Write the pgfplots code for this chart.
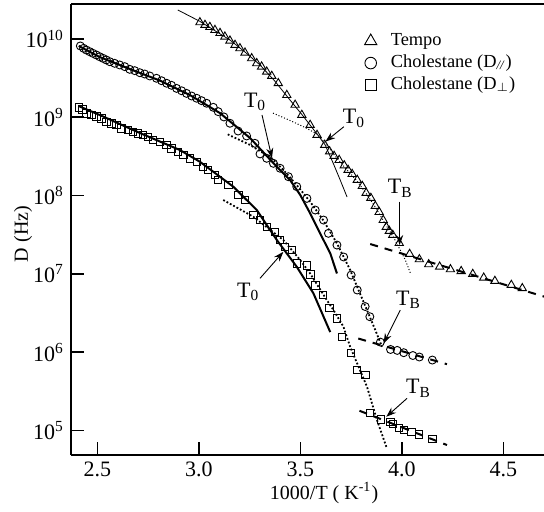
\documentclass[border=0pt]{standalone}
\usepackage{fontspec}
\setmainfont{Liberation Serif}
\usepackage{pgfplots}
\usepackage{pgfplotstable}
\pgfplotsset{compat=1.18}
\usetikzlibrary{arrows.meta}
\pgfplotsset{markleg/.style={legend image code/.code={\draw[##1,mark size=#1] plot coordinates {(0pt,0pt)};}}}

% Tempo data
\pgfplotstableread{
x y
3.005 1.63e10
3.030 1.51e10
3.054 1.42e10
3.079 1.30e10
3.104 1.19e10
3.128 1.07e10
3.153 9.51e9
3.178 8.38e9
3.202 7.60e9
3.227 6.68e9
3.260 5.66e9
3.285 4.89e9
3.309 4.43e9
3.334 3.82e9
3.359 3.37e9
3.391 2.72e9
3.433 1.92e9
3.474 1.44e9
3.507 1.07e9
3.548 7.96e8
3.582 5.93e8
3.620 4.43e8
3.644 3.65e8
3.666 3.20e8
3.691 2.84e8
3.716 2.42e8
3.735 2.12e8
3.755 1.88e8
3.780 1.58e8
3.805 1.32e8
3.824 1.08e8
3.847 9.29e7
3.869 7.35e7
3.888 6.15e7
3.908 4.86e7
3.923 3.96e7
3.938 3.52e7
3.955 3.13e7
3.987 2.47e7
4.038 1.79e7
4.086 1.53e7
4.132 1.32e7
4.186 1.23e7
4.239 1.14e7
4.292 1.08e7
4.349 9.93e6
4.403 8.91e6
4.458 8.09e6
4.539 7.19e6
4.593 6.53e6
}\tempo

% Cholestane D parallel
\pgfplotstableread{
x y
2.416 8.15e9
2.432 7.60e9
2.446 7.23e9
2.462 6.89e9
2.478 6.56e9
2.495 6.25e9
2.511 5.94e9
2.528 5.66e9
2.544 5.40e9
2.561 5.13e9
2.585 4.89e9
2.610 4.66e9
2.635 4.43e9
2.659 4.10e9
2.684 3.94e9
2.709 3.71e9
2.733 3.57e9
2.758 3.37e9
2.791 3.15e9
2.816 2.93e9
2.841 2.72e9
2.865 2.56e9
2.890 2.34e9
2.915 2.18e9
2.939 2.02e9
2.964 1.87e9
2.989 1.75e9
3.013 1.63e9
3.038 1.51e9
3.071 1.34e9
3.095 1.18e9
3.123 1.01e9
3.153 8.38e8
3.193 6.67e8
3.235 5.77e8
3.276 4.65e8
3.301 3.40e8
3.334 2.99e8
3.367 2.58e8
3.400 2.23e8
3.441 1.74e8
3.482 1.30e8
3.532 9.20e7
3.573 6.53e7
3.614 4.86e7
3.638 3.29e7
3.680 2.33e7
3.713 1.64e7
3.750 9.64e6
3.780 6.21e6
3.819 3.82e6
3.842 2.83e6
3.894 1.34e6
3.944 1.08e6
3.977 1.05e6
4.009 9.82e5
4.054 9.04e5
4.086 8.65e5
4.150 7.91e5
}\cpar

% Cholestane D perpendicular
\pgfplotstableread{
x y
2.410 1.33e9
2.427 1.26e9
2.446 1.12e9
2.470 1.07e9
2.495 1.02e9
2.520 9.70e8
2.544 8.77e8
2.569 8.38e8
2.594 7.96e8
2.618 7.23e8
2.651 6.87e8
2.676 6.53e8
2.700 6.24e8
2.725 5.93e8
2.750 5.65e8
2.774 5.12e8
2.807 4.88e8
2.841 4.43e8
2.865 4.01e8
2.898 3.63e8
2.923 3.30e8
2.956 2.99e8
2.989 2.70e8
3.021 2.33e8
3.046 2.12e8
3.079 1.83e8
3.095 1.58e8
3.145 1.36e8
3.194 1.02e8
3.227 8.77e7
3.268 5.64e7
3.301 4.86e7
3.334 4.00e7
3.375 3.45e7
3.400 2.70e7
3.425 2.22e7
3.458 2.01e7
3.484 1.36e7
3.533 1.28e7
3.549 9.84e6
3.574 7.13e6
3.611 5.36e6
3.643 3.66e6
3.681 2.70e6
3.706 1.57e6
3.750 9.82e5
3.780 5.90e5
3.821 5.09e5
3.843 1.68e5
3.898 1.38e5
3.944 1.29e5
3.956 1.21e5
3.986 1.08e5
4.010 1.01e5
4.048 9.59e4
4.084 8.89e4
4.150 7.82e4
}\cperp

\begin{document}
\begin{tikzpicture}
\useasboundingbox (-35.5pt,-28pt) rectangle (236.5pt,227.5pt);
\begin{axis}[
  name=ax, at={(0,0)}, anchor=south west,
  scale only axis, width=236.5pt, height=225.5pt,
  xmin=2.37, xmax=4.70,
  ymode=log, ymin=4.84e4, ymax=2.8e10,
  axis lines=left, axis line style={-, line width=0.8pt},
  tick align=inside, major tick length=6.5pt,
  every tick/.style={black, line width=0.8pt},
  xtick={2.5,3.0,3.5,4.0,4.5}, xticklabels={2.5,3.0,3.5,4.0,4.5},
  ytick={1e5,1e6,1e7,1e8,1e9,1e10},
  yticklabels={10\textsuperscript{5},10\textsuperscript{6},10\textsuperscript{7},10\textsuperscript{8},10\textsuperscript{9},10\textsuperscript{10}},
  yminorticks=false, xminorticks=false,
  tick label style={font=\fontsize{11}{13}\selectfont},
  xlabel={1000/T ( K\textsuperscript{-1})}, ylabel={D (Hz)},
  label style={font=\fontsize{10.5}{12}\selectfont},
  every axis x label/.style={at={(axis description cs:0.535,-0.084)}, anchor=center},
  every axis y label/.style={at={(axis description cs:-0.1015,0.49)}, rotate=90, anchor=center},
  legend style={draw=none, fill=none, at={(axis description cs:0.620,0.942)}, anchor=north west,
    inner sep=0pt, row sep=0.5pt, column sep=6pt, font=\fontsize{9.2}{10}\selectfont,
    nodes={inner sep=1pt, text height=6.5pt, text depth=2pt}},
  legend cell align=left,
]
% ---- Tempo fit lines
\addplot[black, line width=0.4pt, forget plot] coordinates {
(2.896,2.35e10) (3.005,1.68e10) (3.153,9.71e9) (3.227,6.82e9) (3.301,4.66e9)
(3.374,2.90e9) (3.449,1.66e9) (3.513,1.04e9) (3.582,6.11e8) (3.622,4.43e8)
(3.661,2.61e8) (3.696,1.58e8) (3.730,9.57e7)};
\addplot[black, line width=0.5pt, densely dotted, forget plot] coordinates {
(3.365,1.13e9) (3.449,9.10e8) (3.523,7.40e8) (3.582,6.11e8) (3.627,4.55e8)
(3.671,3.20e8) (3.721,2.25e8) (3.770,1.63e8) (3.819,1.11e8) (3.869,7.13e7)
(3.918,4.33e7) (3.958,2.95e7) (3.992,2.01e7) (4.017,1.50e7) (4.042,1.02e7)};
\addplot[black, line width=1pt, dash pattern=on 4pt off 3.5pt, forget plot] coordinates {
(3.844,2.40e7) (4.703,5.09e6)};
% ---- Cholestane D// fit lines
\addplot[black, line width=1pt, forget plot] coordinates {
(2.408,8.15e9) (2.511,5.89e9) (2.659,4.14e9) (2.807,2.95e9) (2.956,1.92e9)
(3.104,1.13e9) (3.252,5.43e8) (3.384,2.33e8) (3.449,1.58e8) (3.499,1.02e8)
(3.548,5.93e7) (3.597,3.29e7) (3.647,1.83e7) (3.680,1.01e7)};
\addplot[black, line width=0.9pt, densely dotted, forget plot] coordinates {
(3.142,6.05e8) (3.252,4.43e8) (3.359,2.99e8) (3.425,2.00e8) (3.482,1.36e8)
(3.548,8.34e7) (3.612,4.86e7) (3.680,2.45e7) (3.745,1.12e7) (3.780,6.78e6)
(3.828,3.44e6) (3.869,1.91e6) (3.902,1.17e6)};
\addplot[black, line width=1pt, dash pattern=on 4pt off 3.5pt, forget plot] coordinates {
(3.785,1.49e6) (4.222,7.00e5)};
% ---- Cholestane Dperp fit lines
\addplot[black, line width=1pt, forget plot] coordinates {
(2.408,1.39e9) (2.511,1.07e9) (2.709,6.30e8) (2.906,3.82e8) (3.005,2.70e8)
(3.169,1.30e8) (3.285,6.53e7) (3.384,2.70e7) (3.482,1.23e7) (3.564,5.64e6)
(3.647,1.80e6)};
\addplot[black, line width=0.9pt, densely dotted, forget plot] coordinates {
(3.120,8.77e7) (3.268,5.36e7) (3.416,2.70e7) (3.499,1.50e7) (3.548,1.01e7)
(3.630,4.62e6) (3.663,3.44e6) (3.712,2.11e6) (3.745,1.17e6) (3.828,3.61e5)
(3.877,1.36e5) (3.926,5.89e4)};
\addplot[black, line width=1pt, dash pattern=on 4pt off 3.5pt, forget plot] coordinates {
(3.791,1.78e5) (4.222,6.49e4)};
% ---- data markers
\addplot[black, only marks, mark=triangle, mark size=2.4pt,
  mark options={solid, line width=0.45pt, fill=none}, markleg=3.5pt] table[x=x,y=y] {\tempo};
\addlegendentry{Tempo}
\addplot[black, only marks, mark=o, mark size=2pt,
  mark options={solid, line width=0.45pt, fill=none}, markleg=2.9pt] table[x=x,y=y] {\cpar};
\addlegendentry{Cholestane (D\textsubscript{\textit{//}})}
\addplot[black, only marks, mark=square, mark size=1.85pt,
  mark options={solid, line width=0.45pt, fill=none}, markleg=2.7pt] table[x=x,y=y] {\cperp};
\addlegendentry{Cholestane (D\textsubscript{$\perp$})}
% ---- annotations
\begin{scope}[font=\fontsize{11}{13}\selectfont]
\node at (axis cs:3.277,1.58e9) {T\textsubscript{0}};
\node at (axis cs:3.764,9.70e8) {T\textsubscript{0}};
\node at (axis cs:3.243,5.90e6) {T\textsubscript{0}};
\node at (axis cs:3.992,1.24e8) {T\textsubscript{B}};
\node at (axis cs:4.033,4.62e6) {T\textsubscript{B}};
\node at (axis cs:4.082,3.44e5) {T\textsubscript{B}};
\end{scope}
\begin{scope}[line width=0.45pt, -{Stealth[length=5pt,width=3.5pt]}]
\draw (axis cs:3.311,1.07e9) -- (axis cs:3.360,3.01e8);
\draw (axis cs:3.714,7.57e8) -- (axis cs:3.623,4.88e8);
\draw (axis cs:3.301,8.75e6) -- (axis cs:3.416,1.91e7);
\draw (axis cs:3.989,8.34e7) -- (axis cs:3.989,2.33e7);
\draw (axis cs:3.992,3.44e6) -- (axis cs:3.910,1.29e6);
\draw (axis cs:4.025,2.56e5) -- (axis cs:3.923,1.49e5);
\end{scope}
\end{axis}
\draw[line width=0.8pt] (ax.north west) -- (ax.north east);
\end{tikzpicture}
\end{document}
